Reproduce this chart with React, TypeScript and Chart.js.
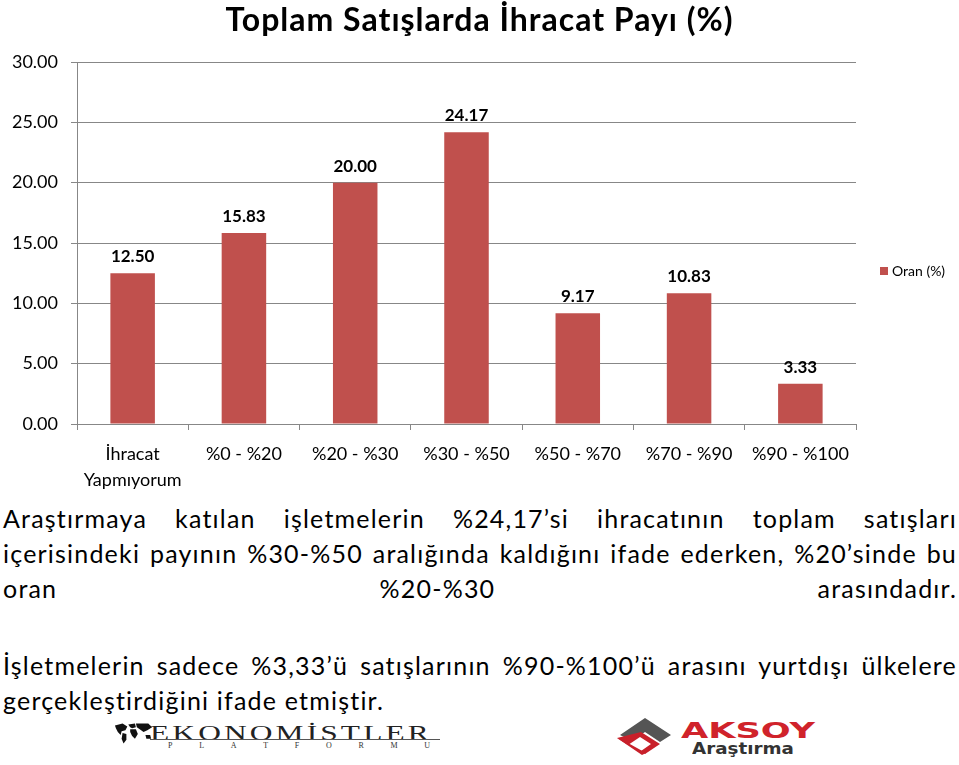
import React, { useEffect, useRef } from "react";
import { Chart, registerables } from "chart.js";

Chart.register(...registerables);

const chartTitle = "Toplam Satışlarda İhracat Payı (%)";
const categories: (string | string[])[] = [
  ["İhracat", "Yapmıyorum"],
  "%0 - %20",
  "%20 - %30",
  "%30 - %50",
  "%50 - %70",
  "%70 - %90",
  "%90 - %100",
];
const seriesName = "Oran (%)";
const values = [12.5, 15.83, 20.0, 24.17, 9.17, 10.83, 3.33];
const yMin = 0;
const yMax = 30;
const yStep = 5;

const justifiedLines = [
  "Araştırmaya katılan işletmelerin %24,17’si ihracatının toplam satışları",
  "içerisindeki payının %30-%50 aralığında kaldığını ifade ederken, %20’sinde bu",
  "oran %20-%30 arasındadır.",
];
const secondParagraph = [
  "İşletmelerin sadece %3,33’ü satışlarının %90-%100’ü arasını yurtdışı ülkelere",
  "gerçekleştirdiğini ifade etmiştir.",
];

const BAR = "#C0504D";
const GRID = "#878787";
const FONT = "Lato, 'Open Sans', sans-serif";

const overlay = {
  id: "overlay",
  afterDatasetsDraw(chart: any) {
    const ctx = chart.ctx as any;
    const meta = chart.getDatasetMeta(0);
    ctx.save();
    // title
    ctx.fillStyle = "#000";
    ctx.textAlign = "center";
    ctx.textBaseline = "alphabetic";
    ctx.font = `bold 32px ${FONT}`;
    ctx.letterSpacing = "1px";
    ctx.fillText(chartTitle, chart.width / 2, 31);
    ctx.letterSpacing = "0px";
    // data labels
    ctx.font = `bold 17px ${FONT}`;
    meta.data.forEach((bar: any, i: number) => {
      ctx.fillText(values[i].toFixed(2), bar.x, bar.y - 11);
    });
    // legend
    const area = chart.chartArea;
    const lx = area.right + 24;
    const ly = 267;
    ctx.fillStyle = BAR;
    ctx.fillRect(lx, ly, 8, 8);
    ctx.fillStyle = "#000";
    ctx.textAlign = "left";
    ctx.font = `14px ${FONT}`;
    ctx.fillText(seriesName, lx + 12, ly + 9);
    ctx.restore();
  },
};

function ChartCanvas() {
  const ref = useRef<HTMLCanvasElement>(null);
  useEffect(() => {
    const chart = new Chart(ref.current as HTMLCanvasElement, {
      type: "bar",
      data: {
        labels: categories,
        datasets: [
          {
            label: seriesName,
            data: values,
            backgroundColor: BAR,
            barPercentage: 0.4,
            categoryPercentage: 1,
          },
        ],
      },
      options: {
        animation: false,
        responsive: false,
        maintainAspectRatio: false,
        layout: { padding: { top: 62, right: 103, left: 0, bottom: 0 } },
        plugins: {
          legend: { display: false },
          tooltip: { enabled: false },
          title: { display: false },
        },
        scales: {
          x: {
            offset: true,
            grid: {
              display: true,
              offset: true,
              drawOnChartArea: false,
              drawTicks: true,
              tickLength: 6,
              color: GRID,
            },
            border: { display: true, color: GRID },
            ticks: {
              color: "#000",
              font: { family: FONT, size: 18, lineHeight: 1.45 },
              padding: 11,
              maxRotation: 0,
              autoSkip: false,
            },
            afterFit: (s: any) => {
              s.height = 76;
            },
          },
          y: {
            min: yMin,
            max: yMax,
            ticks: {
              stepSize: yStep,
              callback: (v: any) => Number(v).toFixed(2),
              color: "#000",
              font: { family: FONT, size: 18 },
              padding: 13,
            },
            grid: { color: GRID, tickLength: 6 },
            border: { display: true, color: GRID },
            afterFit: (s: any) => {
              s.width = 77;
            },
          },
        },
      },
      plugins: [overlay],
    } as any);
    return () => chart.destroy();
  }, []);
  return <canvas ref={ref} width={959} height={500} style={{ display: "block" }} />;
}

const lineStyle: React.CSSProperties = {
  textAlign: "justify",
  textAlignLast: "justify" as any,
  whiteSpace: "normal",
  height: 35,
  overflow: "visible",
};

export default function App() {
  return (
    <div
      style={{
        position: "absolute",
        left: 0,
        top: 0,
        width: 959,
        height: 765,
        background: "#fff",
        overflow: "hidden",
      }}
    >
      <div style={{ position: "absolute", left: 0, top: 0 }}>
        <ChartCanvas />
      </div>
      <div
        style={{
          position: "absolute",
          left: 3,
          top: 501,
          width: 954,
          fontFamily: FONT,
          fontSize: 25,
          letterSpacing: "1.2px",
          lineHeight: "35px",
          color: "#000",
        }}
      >
        {justifiedLines.map((t, i) => (
          <div key={i} style={lineStyle}>
            {t}
          </div>
        ))}
        <div style={{ height: 42 }} />
        <div style={lineStyle}>{secondParagraph[0]}</div>
        <div style={{ height: 35 }}>{secondParagraph[1]}</div>
      </div>
      {/* Ekonomistler Platformu logo */}
      <div style={{ position: "absolute", left: 112, top: 718, width: 340, height: 40 }}>
        <svg width="40" height="24" viewBox="0 0 42 24" style={{ position: "absolute", left: 2, top: 4 }}>
          <path d="M1 3 L9 1 L14 4 L12 8 L8 9 L7 13 L4 10 L2 6 Z" fill="#111" />
          <path d="M9 11 L13 12 L13 18 L10 22 L8 17 Z" fill="#111" />
          <path d="M15 2 L22 1 L23 5 L19 6 L17 5 Z" fill="#111" />
          <path d="M17 7 L23 7 L25 12 L22 17 L19 14 L17 10 Z" fill="#111" />
          <path d="M23 1 L36 1 L40 5 L35 8 L31 10 L27 7 L24 5 Z" fill="#111" />
          <path d="M33 13 L38 13 L39 17 L34 17 Z" fill="#111" />
        </svg>
        <div
          style={{
            position: "absolute",
            left: 38,
            top: 3,
            fontFamily: "'Liberation Serif', 'DejaVu Serif', serif",
            fontSize: 20,
            letterSpacing: "2px",
            color: "#222",
            lineHeight: "24px",
            transform: "scaleX(1.57)",
            transformOrigin: "left top",
            whiteSpace: "nowrap",
          }}
        >
          EKONOMİSTLER
        </div>
        <div style={{ position: "absolute", left: 38, top: 21, width: 290, height: 1, background: "#555" }} />
        <div
          style={{
            position: "absolute",
            left: 56,
            top: 23,
            width: 262,
            fontFamily: "'Liberation Serif', serif",
            fontSize: 8,
            lineHeight: "9px",
            display: "flex",
            justifyContent: "space-between",
            color: "#333",
          }}
        >
          {"PLATFORMU".split("").map((c, i) => (
            <span key={i}>{c}</span>
          ))}
        </div>
      </div>
      {/* Aksoy Araştırma logo */}
      <div style={{ position: "absolute", left: 614, top: 715, width: 220, height: 45 }}>
        <svg width="60" height="42" style={{ position: "absolute", left: 0, top: 0 }}>
          <polygon points="6,20 31,3 57,20 46,27 31,17 18,26" fill="#555" />
          <polygon points="3,23 14,30 26,22 37,29 27,36 31,39 46,29 27,17 " fill="#c8202a" />
          <polygon points="3,23 28,40 32,38 14,28" fill="#c8202a" />
        </svg>
        <div
          style={{
            position: "absolute",
            left: 67,
            top: 4,
            fontFamily: "'DejaVu Sans', sans-serif",
            fontWeight: "bold",
            fontSize: 22,
            lineHeight: "24px",
            color: "#d0232b",
            transform: "scaleX(1.6)",
            transformOrigin: "left top",
            whiteSpace: "nowrap",
          }}
        >
          AKSOY
        </div>
        <div
          style={{
            position: "absolute",
            left: 78,
            top: 26,
            fontFamily: "'DejaVu Sans', sans-serif",
            fontWeight: "bold",
            fontSize: 15,
            lineHeight: "16px",
            color: "#333",
            transform: "scaleX(1.22)",
            transformOrigin: "left top",
            whiteSpace: "nowrap",
          }}
        >
          Araştırma
        </div>
      </div>
    </div>
  );
}
